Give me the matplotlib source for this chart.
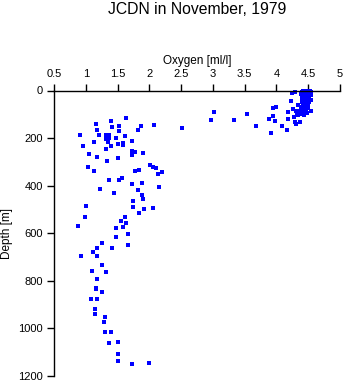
import matplotlib.pyplot as plt

# Oxygen [ml/l] and depth [m]
# near-surface cluster (0-100 m)
surf_oxygen = [4.42, 4.45, 4.48, 4.51, 4.53, 4.40, 4.46, 4.50, 4.55, 4.43,
               4.48, 4.52, 4.38, 4.45, 4.50, 4.54, 4.42, 4.47, 4.52, 4.40,
               4.45, 4.50, 4.55, 4.43, 4.48, 4.52, 4.40, 4.46, 4.50, 4.42,
               4.47, 4.38, 4.44, 4.50, 4.40, 4.46, 4.36, 4.42, 4.48, 4.38,
               4.44, 4.34, 4.34, 4.31, 4.32, 4.40, 4.46, 4.43]
surf_depth = [0, 0, 0, 0, 2, 5, 5, 5, 8, 10,
              10, 12, 15, 15, 18, 20, 22, 25, 27, 30,
              32, 35, 38, 40, 45, 48, 50, 55, 58, 62,
              65, 70, 72, 75, 80, 82, 88, 92, 95, 100,
              102, 105, 61, 85, 96, 96, 79, 51]

# scattered points in the upper 200 m
upper_oxygen = [3.01, 2.97, 3.34, 3.53, 3.68, 3.91, 3.88, 3.94, 3.97, 3.95,
                4.00, 4.08, 4.17, 4.18, 4.18, 4.23, 4.26, 4.28, 4.29, 4.31,
                4.37, 4.55, 4.24, 4.29, 2.52]
upper_depth = [92, 125, 125, 99, 148, 179, 121, 107, 127, 75,
               71, 150, 167, 121, 90, 45, 76, 113, 134, 142,
               132, 87, 9, 8, 159]

# deep profile
deep_oxygen = [1.63, 1.40, 1.16, 1.42, 1.53, 1.87, 2.08, 1.52, 1.17, 1.82,
               0.91, 1.21, 1.32, 1.37, 1.62, 1.32, 1.36, 1.48, 1.72, 1.13,
               1.35, 1.59, 1.50, 1.59, 1.40, 0.95, 1.32, 1.72, 1.78, 1.90,
               1.73, 1.05, 1.17, 1.50, 1.34, 2.01, 2.05, 2.10, 1.04, 2.20,
               1.13, 1.77, 1.84, 2.14, 1.57, 1.53, 1.36, 1.89, 1.73, 2.15,
               1.23, 1.82, 1.45, 1.89, 1.75, 1.90, 1.01, 1.75, 1.92, 2.06,
               1.83, 0.99, 1.61, 1.56, 1.64, 0.88, 1.48, 1.59, 1.67, 1.48,
               1.26, 1.66, 1.42, 1.18, 1.12, 0.93, 1.18, 1.26, 1.10, 1.32,
               1.18, 1.16, 1.16, 1.26, 1.09, 1.18, 1.15, 1.15, 1.31, 1.28,
               1.31, 1.39, 1.37, 1.51, 1.50, 1.50, 1.72, 1.99]
deep_depth = [117, 128, 142, 155, 149, 150, 146, 170, 166, 167,
              188, 188, 188, 188, 191, 203, 201, 201, 214, 218,
              216, 219, 226, 230, 233, 233, 247, 253, 260, 264,
              272, 267, 281, 285, 296, 313, 320, 327, 323, 343,
              340, 340, 335, 352, 367, 375, 377, 389, 394, 406,
              414, 417, 430, 440, 463, 457, 487, 490, 497, 494,
              515, 533, 532, 549, 556, 570, 578, 575, 604, 617,
              641, 651, 661, 663, 678, 697, 694, 732, 760, 764,
              794, 829, 836, 848, 878, 876, 920, 941, 953, 974,
              1014, 1014, 1063, 1057, 1109, 1137, 1150, 1147]

x_ticks = [0.5, 1, 1.5, 2, 2.5, 3, 3.5, 4, 4.5, 5]
x_ticklabels = ['0.5', '1', '1.5', '2', '2.5', '3', '3.5', '4', '4.5', '5']
y_ticks = [0, 200, 400, 600, 800, 1000, 1200]

plt.rcParams['font.family'] = ['Liberation Sans', 'DejaVu Sans']

fig = plt.figure(figsize=(3.45, 3.84), dpi=100)
ax = fig.add_axes([54 / 345, 1 - 376 / 384, 286 / 345, 285.5 / 384])

for ox, dep in [(surf_oxygen, surf_depth), (upper_oxygen, upper_depth),
                (deep_oxygen, deep_depth)]:
    ax.plot(ox, dep, 's', color='#0000ff', markersize=2.7,
            markeredgewidth=0, clip_on=False)

ax.set_xlim(0.5, 5)
ax.set_ylim(1200, 0)
ax.xaxis.tick_top()
ax.set_xticks(x_ticks)
ax.set_xticklabels(x_ticklabels)
ax.set_yticks(y_ticks)
ax.tick_params(direction='out', length=5, width=1, labelsize=8, pad=3,
               colors='black')
for side in ['right', 'bottom']:
    ax.spines[side].set_visible(False)
for side in ['left', 'top']:
    ax.spines[side].set_linewidth(1)

ax.xaxis.set_label_position('top')
ax.set_xlabel('Oxygen [ml/l]', fontsize=8.5, va='center')
ax.xaxis.set_label_coords(0.5, 1 + 29.5 / 285.5)
ax.set_ylabel('Depth [m]', fontsize=8.5, va='center')
ax.yaxis.set_label_coords(-47 / 286, 0.5)

fig.text(197 / 345, 1 - 9 / 384, 'JCDN in November, 1979', fontsize=11.3,
         ha='center', va='center')

fig.savefig('out.png', dpi=100)
